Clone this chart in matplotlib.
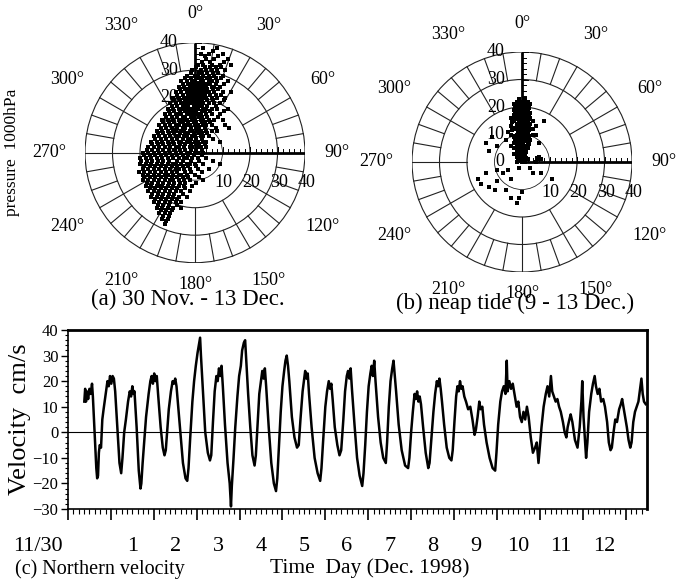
import numpy as np
import matplotlib
matplotlib.use("Agg")
import matplotlib.pyplot as plt
from matplotlib.patches import Circle
from matplotlib.transforms import blended_transform_factory

plt.rcParams['font.family'] = ['Liberation Serif', 'DejaVu Serif']

# ---------------- data ----------------
# Panel (a): velocity vectors 30 Nov - 13 Dec (cm/s); rows of equal north
# component, each with the east components observed at that level.
a_rows = [
    (38, [3, 8]),
    (37, [6.5]),
    (36, [2, 5, 10]),
    (35, [3.5, 8.5]),
    (34, [4, 7, 12]),
    (33, [2.5, 5.5, 10.5]),
    (32, [1, 3, 6, 9, 13]),
    (31, [0.5, 3.5, 5.5, 7.5, 9.5]),
    (30, [-1, 2, 4, 6, 8, 11]),
    (29, [-1.5, 1.5, 2.5, 4.5, 6.5, 8.5]),
    (28, [-3, 0, 1, 3, 5, 7, 10]),
    (27, [-3.5, -1.5, 0.5, 1.5, 2.5, 4.5, 5.5, 7.5, 9.5]),
    (26, [-5, -3, -1, 0, 2, 3, 5, 6, 8, 12]),
    (25, [-4.5, -2.5, -1.5, -0.5, 0.5, 1.5, 2.5, 3.5, 4.5, 5.5, 7.5, 10.5]),
    (24, [-6, -4, -2, -1, 0, 1, 2, 3, 4, 6, 7, 9]),
    (23, [-5.5, -3.5, -2.5, -1.5, -0.5, 0.5, 1.5, 2.5, 3.5, 4.5, 6.5, 8.5]),
    (22, [-7, -5, -3, -2, -1, 0, 1, 2, 3, 4, 5, 7, 10, 13]),
    (21, [-6.5, -4.5, -2.5, -1.5, -0.5, 0.5, 1.5, 2.5, 3.5, 5.5, 7.5, 9.5]),
    (20, [-8, -6, -4, -3, -2, -1, 0, 1, 2, 3, 4, 6, 8, 11]),
    (19, [-7.5, -5.5, -3.5, -2.5, -1.5, -0.5, 0.5, 1.5, 2.5, 4.5, 6.5, 10.5]),
    (18, [-9, -7, -5, -4, -3, -2, -1, 0, 1, 2, 3, 5, 7, 9]),
    (17, [-8.5, -6.5, -4.5, -3.5, -2.5, -0.5, 0.5, 1.5, 2.5, 4.5, 7.5]),
    (16, [-10, -8, -6, -5, -4, -3, -2, -1, 0, 1, 3, 4, 6, 8, 12]),
    (15, [-9.5, -7.5, -5.5, -3.5, -2.5, -1.5, -0.5, 0.5, 2.5, 3.5, 5.5, 10.5]),
    (14, [-11, -9, -7, -6, -5, -3, -2, -1, 0, 1, 2, 4, 6, 9]),
    (13, [-10.5, -8.5, -6.5, -4.5, -3.5, -1.5, -0.5, 1.5, 2.5, 4.5, 8.5]),
    (12, [-12, -10, -8, -6, -5, -4, -3, -1, 0, 2, 3, 5, 7, 10]),
    (11, [-11.5, -9.5, -7.5, -5.5, -4.5, -2.5, -0.5, 0.5, 2.5, 3.5, 5.5]),
    (10, [-13, -11, -9, -7, -6, -4, -3, -2, 0, 1, 3, 4, 6, 11]),
    (9, [-12.5, -10.5, -8.5, -6.5, -4.5, -3.5, -1.5, 0.5, 1.5, 3.5, 7.5, 12.5]),
    (8, [-14, -12, -10, -8, -7, -5, -4, -2, -1, 1, 2, 4, 6, 8]),
    (7, [-13.5, -11.5, -9.5, -7.5, -5.5, -3.5, -2.5, -0.5, 1.5, 2.5, 4.5]),
    (6, [-15, -13, -11, -9, -7, -6, -4, -3, -1, 0, 2, 3, 5]),
    (5, [-14.5, -12.5, -10.5, -8.5, -6.5, -4.5, -2.5, -1.5, 0.5, 2.5, 6.5]),
    (4, [-16, -14, -12, -10, -8, -6, -5, -3, -2, 0, 1, 3, 4, 9]),
    (3, [-15.5, -13.5, -11.5, -9.5, -7.5, -5.5, -3.5, -1.5, 0.5, 1.5, 3.5]),
    (2, [-17, -15, -13, -11, -9, -7, -6, -4, -2, -1, 1, 2, 4]),
    (1, [-17.5, -15.5, -13.5, -11.5, -9.5, -7.5, -5.5, -3.5, -1.5, 0.5, 2.5]),
    (0, [-19, -17, -15, -13, -11, -9, -7, -5, -3, -2, 0, 1, 3]),
    (-1, [-18.5, -16.5, -14.5, -12.5, -10.5, -8.5, -6.5, -4.5, -2.5, -0.5, 2.5]),
    (-2, [-20, -18, -16, -14, -12, -10, -8, -6, -4, -3, -1, 1, 4]),
    (-3, [-19.5, -17.5, -15.5, -13.5, -11.5, -9.5, -6.5, -4.5, -1.5, 1.5, 6.5]),
    (-4, [-20, -18, -16, -14, -12, -10, -8, -7, -5, -3, -2, 0, 3, 9]),
    (-5, [-18.5, -16.5, -14.5, -12.5, -10.5, -8.5, -6.5, -4.5, -2.5, 0.5]),
    (-6, [-19, -17, -15, -13, -11, -9, -7, -6, -4, -2, 1, 5]),
    (-7, [-20.5, -18.5, -16.5, -14.5, -12.5, -10.5, -8.5, -6.5, -3.5, -1.5, 2.5]),
    (-8, [-19, -17, -15, -13, -11, -10, -8, -6, -5, -3, 0]),
    (-9, [-18.5, -16.5, -14.5, -12.5, -10.5, -8.5, -6.5, -4.5, -2.5, 1.5]),
    (-10, [-19, -17, -15, -13, -11, -9, -8, -6, -4, -2, 3]),
    (-11, [-17.5, -15.5, -13.5, -11.5, -9.5, -7.5, -5.5, -3.5, 0.5]),
    (-12, [-18, -16, -14, -13, -12, -10, -8, -6, -4, -1]),
    (-13, [-16.5, -14.5, -12.5, -10.5, -8.5, -6.5, -3.5]),
    (-14, [-17, -15, -13, -11, -9, -7, -5, -2]),
    (-15, [-15.5, -13.5, -11.5, -9.5, -7.5, -4.5]),
    (-16, [-16, -14, -12, -10, -8, -6, -3]),
    (-17, [-14.5, -12.5, -10.5, -8.5, -6.5]),
    (-18, [-15, -13, -11, -9, -7, -5]),
    (-19, [-13.5, -11.5, -9.5, -6.5]),
    (-20, [-14, -12, -10, -8, -5]),
    (-21, [-12.5, -10.5, -8.5]),
    (-22, [-13, -11, -9]),
    (-23, [-11.5, -9.5]),
    (-24, [-12, -10]),
    (-25, [-10.5]),
    (-26, [-11]),
]

# Panel (b): neap tide 9 - 13 Dec, same layout
b_rows = [
    (23, [-1, 1]),
    (22, [-2, -1, 0, 1, 2]),
    (21.5, [-1.5, 0.5, 1.5]),
    (21, [-3, -1, 0, 1, 3]),
    (20.5, [-2.5, -0.5, 1.5]),
    (20, [-2, 0, 1, 2]),
    (19.5, [-1.5, 0.5, 2.5]),
    (19, [-3, -1, 0, 2]),
    (18.5, [-2.5, -0.5, 1.5]),
    (18, [-2, -1, 1, 3]),
    (17.5, [-1.5, 0.5, 2.5]),
    (17, [-3, 0, 1, 2]),
    (16.5, [-2.5, -0.5, 1.5]),
    (16, [-4, -2, 0, 1, 3]),
    (15.5, [-1.5, 0.5, 2.5]),
    (15, [-3, -1, 0, 2, 4, 8]),
    (14.5, [-3.5, -0.5, 1.5]),
    (14, [-2, 0, 1, 3]),
    (13.5, [-1.5, 0.5, 2.5]),
    (13, [-4, -1, 0, 2, 5]),
    (12.5, [-2.5, -0.5, 1.5]),
    (12, [-3, -2, 0, 1, 3, 4]),
    (11.5, [-3.5, 0.5, 2.5]),
    (11, [-5, -1, 0, 2]),
    (10.5, [-1.5, 0.5, 1.5]),
    (10, [-4, -2, 0, 1, 4, 5]),
    (9.5, [-2.5, -0.5, 2.5]),
    (9, [-11, -3, -1, 0, 2]),
    (8.5, [-1.5, 0.5, 1.5]),
    (8, [-6, -2, 0, 1, 3]),
    (7.5, [-2.5, -0.5, 1.5]),
    (7, [-13, -3, -1, 0, 2, 6]),
    (6.5, [-1.5, 0.5, 2.5]),
    (6, [-9, -4, -2, 0, 1]),
    (5.5, [-0.5, 1.5]),
    (5, [-3, -1, 0, 2]),
    (4.5, [-1.5, 0.5]),
    (4, [-12, -2, 0, 1]),
    (3.5, [-0.5, 1.5]),
    (3, [-3, -1, 0, 1]),
    (2.5, [-1.5, 0.5]),
    (2, [-2, 0, 1, 6]),
    (1.5, [-0.5, 1.5, 5.5]),
    (1, [-1, 0, 2, 6, 7]),
    (0.5, [-1.5, 0.5]),
    (0, [-2, 0, 1, 5]),
    (-2, [-1, 3]),
    (-3, [-9, -5]),
    (-4, [-13, -7, 4, 7]),
    (-6, [-16, -4, 11]),
    (-7, [-9]),
    (-8, [-15]),
    (-9, [-12]),
    (-10, [-10, -6]),
    (-11, [0]),
    (-13, [-4, -1]),
    (-15, [-2]),
]

# Panel (c): northern velocity (cm/s) against time in days from 30 Nov 00:00
t_days = [
    0.38, 0.40, 0.42, 0.44, 0.47, 0.50, 0.53, 0.56, 0.58,
    0.62, 0.66, 0.68, 0.70, 0.72, 0.74, 0.77, 0.80, 0.83,
    0.88, 0.92, 0.95, 0.98, 1.01, 1.04, 1.07, 1.10,
    1.15, 1.20, 1.24, 1.27, 1.31, 1.35,
    1.40, 1.44, 1.47, 1.50, 1.53, 1.55,
    1.60, 1.65, 1.69, 1.71, 1.74, 1.78, 1.82,
    1.88, 1.92, 1.95, 1.98, 2.01, 2.04, 2.07, 2.10,
    2.16, 2.21, 2.25, 2.28, 2.31, 2.35,
    2.40, 2.44, 2.47, 2.50, 2.53, 2.56,
    2.62, 2.68, 2.74, 2.78, 2.81, 2.85,
    2.90, 2.94, 2.98, 3.02, 3.05, 3.08, 3.10, 3.14,
    3.20, 3.26, 3.31, 3.34, 3.38,
    3.42, 3.46, 3.49, 3.52, 3.55, 3.58, 3.61,
    3.66, 3.72, 3.77, 3.80, 3.82, 3.86, 3.90,
    3.95, 3.99, 4.03, 4.06, 4.10, 4.13, 4.16, 4.20,
    4.25, 4.30, 4.35, 4.38, 4.42,
    4.46, 4.50, 4.53, 4.56, 4.59, 4.62,
    4.68, 4.74, 4.80, 4.85, 4.88, 4.92, 4.96,
    5.00, 5.04, 5.07, 5.10, 5.13, 5.16,
    5.22, 5.28, 5.34, 5.38, 5.42,
    5.47, 5.50, 5.53, 5.56, 5.59, 5.62,
    5.68, 5.75, 5.82, 5.88, 5.91, 5.95,
    6.00, 6.04, 6.08, 6.11, 6.14, 6.17,
    6.22, 6.28, 6.33, 6.37, 6.42,
    6.46, 6.50, 6.53, 6.56, 6.59, 6.62,
    6.68, 6.74, 6.80, 6.86, 6.89, 6.93, 6.97,
    7.01, 7.05, 7.08, 7.11, 7.14, 7.17,
    7.23, 7.29, 7.35, 7.41, 7.44, 7.48,
    7.52, 7.56, 7.59, 7.62, 7.65,
    7.71, 7.78, 7.86, 7.93, 7.96, 8.00, 8.04,
    8.08, 8.11, 8.14, 8.17, 8.20, 8.23,
    8.28, 8.34, 8.40, 8.43, 8.47, 8.52,
    8.56, 8.60, 8.63, 8.66, 8.69, 8.72,
    8.77, 8.83, 8.89, 8.94, 8.97, 9.01,
    9.05, 9.08, 9.11, 9.14, 9.17, 9.20, 9.24, 9.28, 9.33, 9.38, 9.43,
    9.48, 9.51, 9.55, 9.59, 9.62, 9.66, 9.70,
    9.76, 9.83, 9.90, 9.96, 9.99, 10.03, 10.08,
    10.12, 10.16, 10.20, 10.23, 10.25, 10.29, 10.33, 10.37, 10.42, 10.46,
    10.50, 10.54, 10.58, 10.62, 10.66, 10.70, 10.74, 10.79, 10.84, 10.89,
    10.93, 10.97, 11.00, 11.04,
    11.09, 11.14, 11.18, 11.22, 11.26, 11.29, 11.33, 11.37, 11.41, 11.45, 11.49,
    11.54, 11.58, 11.62, 11.65, 11.69, 11.72, 11.76, 11.82, 11.88,
    11.93, 11.97, 11.99, 12.02, 12.06, 12.08, 12.11, 12.15,
    12.20, 12.24, 12.28, 12.31, 12.35, 12.39, 12.43, 12.48, 12.52,
    12.57, 12.61, 12.65, 12.68, 12.72, 12.76, 12.80, 12.85, 12.89, 12.92, 12.95, 12.99,
    13.03, 13.07, 13.11, 13.14, 13.18, 13.22, 13.26, 13.30, 13.34, 13.37, 13.40, 13.43, 13.47,
]
v_north = [
    12, 17, 12, 16, 13, 17, 15, 19, 14,
    0, -14, -18, -17, -8, -5, -6, 5, 9,
    15, 20, 18, 22, 19, 22, 21, 16,
    2, -12, -16, -10, 0, 5,
    12, 16, 14, 18, 15, 16,
    2, -15, -22, -20, -12, -3, 6,
    15, 20, 22, 19, 23, 20, 22, 15,
    2, -6, -9, -7, 0, 9,
    16, 20, 19, 21, 18, 12,
    0, -12, -18, -19, -14, -2,
    12, 20, 26, 31, 34, 37, 30, 18,
    0, -8, -11, -9, 4,
    16, 22, 20, 25, 22, 26, 18,
    3, -12, -20, -29, -21, -10, 2,
    14, 22, 26, 32, 35, 36, 27, 15,
    2, -9, -13, -9, 3,
    15, 20, 24, 21, 25, 18,
    2, -12, -20, -23, -18, -5, 8,
    18, 24, 28, 30, 26, 20,
    6, -2, -6, -5, 5,
    16, 20, 24, 21, 23, 15,
    2, -10, -16, -19, -14, -3,
    10, 16, 20, 17, 19, 13,
    2, -5, -9, -7, 5,
    16, 22, 24, 21, 25, 17,
    3, -10, -17, -21, -16, -5, 8,
    18, 23, 26, 22, 28, 20,
    6, -4, -10, -12, -4, 10,
    20, 25, 28, 22, 16,
    3, -7, -13, -14, -10, 0, 8,
    15, 13, 16, 12, 14, 11,
    2, -8, -14, -12, -3, 8,
    15, 20, 18, 21, 17, 12,
    3, -6, -10, -11, -7, 4,
    14, 18, 16, 20, 17, 18, 14, 12, 9, 10, 5,
    -1, 1, 6, 12, 9, 10, 3,
    -4, -10, -14, -15, -8, 3, 12,
    16, 18, 15, 28, 16, 20, 17, 19, 14, 10,
    12, 6, 4, 8, 5, 10, 6, -2, -8, -6,
    -4, -12, -6, 2,
    10, 15, 18, 14, 22, 16, 14, 12, 13, 10, 8,
    4, 0, -2, 2, 5, 7, 4, -3, -6,
    2, 12, 20, 6, -5, -10, -4, 8,
    15, 19, 22, 18, 15, 17, 12, 13, 10,
    4, -4, -7, -6, 0, 5, 4, 9, 11, 13, 10, 6,
    2, -3, -6, -4, 4, 8, 10, 12, 17, 21, 15, 12, 11,
]

day_labels = ['11/30', '1', '2', '3', '4', '5', '6', '7', '8', '9', '10', '11', '12']
rose_angles = [0, 30, 60, 90, 120, 150, 180, 210, 240, 270, 300, 330]
speed_ticks = [10, 20, 30, 40]


def rows_to_xy(rows):
    east = [e for n, es in rows for e in es]
    north = [n for n, es in rows for e in es]
    return np.array(east, float), np.array(north, float)


def rose(ax, east, north):
    ax.set_xlim(-40, 40)
    ax.set_ylim(-40, 40)
    ax.set_aspect('equal')
    ax.axis('off')
    grid = dict(color='#222222', lw=0.8, zorder=1)
    for r in (10, 20, 30, 40):
        ax.add_patch(Circle((0, 0), r, fill=False, ec='#222222',
                            lw=0.8 if r > 10 else 0.6, zorder=1))
    for deg in range(0, 360, 10):
        if deg in (0, 90):
            continue
        th = np.deg2rad(deg)
        r0 = 20 if deg % 30 == 0 else 30
        ax.plot([r0 * np.sin(th), 40 * np.sin(th)],
                [r0 * np.cos(th), 40 * np.cos(th)], **grid)
    # north and east axes with scale ticks
    ax.plot([0, 0], [0, 40], color='black', lw=2.0, zorder=4, solid_capstyle='butt')
    ax.plot([0, 40], [0, 0], color='black', lw=2.0, zorder=4, solid_capstyle='butt')
    for s in range(2, 41, 2):
        ln = 2.0 if s % 10 == 0 else 1.4
        ax.plot([s, s], [0, ln], color='black', lw=0.7, zorder=4)
        ax.plot([0, ln], [s, s], color='black', lw=0.7, zorder=4)
    for s in speed_ticks:
        ax.text(s + 0.5, -11, str(s), ha='center', va='center', fontsize=13, zorder=2)
    for s in [0] + speed_ticks:
        ax.text(-6.3, s, str(s), ha='right', va='center', fontsize=13, zorder=2)
    # direction labels
    label_r = {0: 50.5, 90: 51.5, 180: 48, 270: 53}
    for deg in rose_angles:
        r = label_r.get(deg, 53.5)
        th = np.deg2rad(deg)
        ax.text(r * np.sin(th), r * np.cos(th), f'{deg}°', ha='center', va='center',
                fontsize=13, clip_on=False)
    ax.plot(east, north, 's', color='black', ms=2.2, mew=0, zorder=3, clip_on=False)


fig = plt.figure(figsize=(6.78, 5.79), dpi=100)
W, H = 678.0, 579.0

ax_a = fig.add_axes([(195 - 110) / W, 1 - (152.7 + 110) / H, 220 / W, 220 / H])
ax_b = fig.add_axes([(522 - 110) / W, 1 - (162 + 110) / H, 220 / W, 220 / H])
rose(ax_a, *rows_to_xy(a_rows))
rose(ax_b, *rows_to_xy(b_rows))

fig.text(12 / W, 1 - 152 / H, 'pressure  1000hPa', rotation=90, ha='center', va='center',
         fontsize=12.5)
fig.text(188 / W, 1 - 299 / H, '(a) 30 Nov. - 13 Dec.', ha='center', va='center', fontsize=16.5)
fig.text(515 / W, 1 - 303 / H, '(b) neap tide (9 - 13 Dec.)', ha='center', va='center',
         fontsize=16.5)

# ---------------- panel (c) ----------------
ax_c = fig.add_axes([68 / W, 1 - 509 / H, 579 / W, 179 / H])
ax_c.plot(t_days, v_north, color='black', lw=1.8, zorder=3)
ax_c.axhline(0, color='black', lw=0.8, zorder=2)
ax_c.set_xlim(0, 13.5)
ax_c.set_ylim(-30, 40)
ax_c.set_yticks(range(-30, 41, 10))
ax_c.set_yticks(range(-30, 41, 2), minor=True)
ax_c.set_xticks(range(0, 14))
ax_c.set_xticklabels([])
ax_c.set_xticks(np.arange(0, 13.5, 0.125), minor=True)
ax_c.tick_params(axis='y', which='major', direction='out', length=5, width=1, labelsize=12, pad=2)
ax_c.tick_params(axis='y', which='minor', direction='out', length=2.5, width=0.8)
ax_c.tick_params(axis='x', which='major', direction='out', length=8, width=1.2)
ax_c.tick_params(axis='x', which='minor', direction='out', length=3.5, width=0.8)
for side, lw in (('top', 2.0), ('right', 2.0), ('left', 1.2), ('bottom', 1.2)):
    ax_c.spines[side].set_linewidth(lw)
ax_c.set_ylabel('Velocity  cm/s', fontsize=19, labelpad=1)

trans = blended_transform_factory(ax_c.transData, ax_c.transAxes)
for i, lab in enumerate(day_labels):
    x = -0.7 if i == 0 else i + 0.5
    ax_c.text(x, -0.212, lab, transform=trans, ha='center', va='center', fontsize=16)

fig.text(15 / W, 1 - 569 / H, '(c) Northern velocity', ha='left', va='center', fontsize=14.5)
fig.text(370 / W, 1 - 568 / H, 'Time  Day (Dec. 1998)', ha='center', va='center', fontsize=15.5)

fig.savefig('out.png', dpi=100)
